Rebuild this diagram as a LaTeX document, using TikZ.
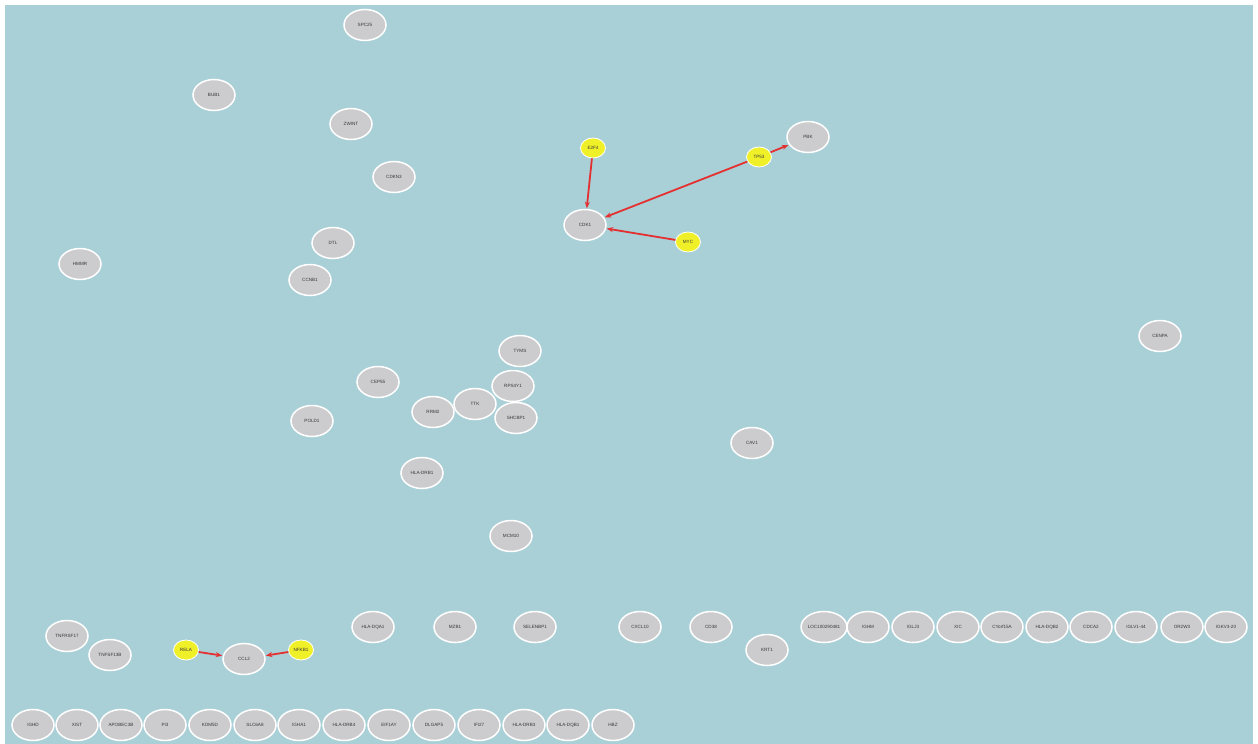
\documentclass[tikz,border=0pt]{standalone}
\usepackage{fontspec}
\setmainfont{Liberation Sans}
\usetikzlibrary{shapes.geometric,arrows.meta}
\definecolor{bgblue}{RGB}{169,208,215}
\definecolor{nodegray}{RGB}{204,204,206}
\definecolor{nodeyellow}{RGB}{240,240,40}
\definecolor{edgered}{RGB}{228,48,48}
\definecolor{labelgray}{RGB}{55,55,55}
\tikzset{
  gene/.style={ellipse, draw=white, line width=1.5pt, fill=nodegray,
    minimum width=42pt, minimum height=31pt, inner sep=0pt,
    font=\fontsize{4.6}{5}\selectfont, text=labelgray},
  tf/.style={ellipse, draw=white, line width=0.8pt, fill=nodeyellow,
    minimum width=25pt, minimum height=20pt, inner sep=0pt,
    font=\fontsize{4.6}{5}\selectfont, text=labelgray},
  reg/.style={draw=edgered, line width=1.8pt, -{Stealth[length=6.5pt,width=5pt]}, shorten >=0.5pt}
}
\begin{document}
\begin{tikzpicture}[x=1pt,y=-1pt]
\useasboundingbox (0,0) rectangle (1258,744);
\fill[white] (0,0) rectangle (1258,744);
\fill[bgblue] (5,5) rectangle (1253,744);
% upper cluster
\node[gene] (SPC25) at (365,25) {SPC25};
\node[gene] (BUB1) at (214,95) {BUB1};
\node[gene] (ZWINT) at (351,124) {ZWINT};
\node[gene] (CDKN3) at (394,177) {CDKN3};
\node[gene] (DTL) at (333,243) {DTL};
\node[gene] (CCNB1) at (310,280) {CCNB1};
\node[gene] (HMMR) at (80,264) {HMMR};
\node[gene] (PBK) at (808,137) {PBK};
\node[gene] (CDK1) at (585,225) {CDK1};
\node[tf] (E2F4) at (593,148) {E2F4};
\node[tf] (TP53) at (759,157) {TP53};
\node[tf] (MYC) at (688,242) {MYC};
% middle cluster
\node[gene] (TYMS) at (520,351) {TYMS};
\node[gene] (CEP55) at (378,382) {CEP55};
\node[gene] (RPS4Y1) at (513,386) {RPS4Y1};
\node[gene] (TTK) at (475,404) {TTK};
\node[gene] (RRM2) at (433,412) {RRM2};
\node[gene] (SHCBP1) at (516,418) {SHCBP1};
\node[gene] (POLD1) at (312,421) {POLD1};
\node[gene] (HLADRB1) at (422,473) {HLA-DRB1};
\node[gene] (MCM10) at (511,536) {MCM10};
\node[gene] (CENPA) at (1160,336) {CENPA};
\node[gene] (CAV1) at (752,443) {CAV1};
% lower left
\node[gene] (TNFRSF17) at (67,636) {TNFRSF17};
\node[gene] (TNFSF13B) at (110,655) {TNFSF13B};
\node[gene] (CCL2) at (244,659) {CCL2};
\node[tf] (RELA) at (186,650) {RELA};
\node[tf] (NFKB1) at (301,650) {NFKB1};
% row at y=627
\node[gene] (HLADQA1) at (373,627) {HLA-DQA1};
\node[gene] (MZB1) at (455,627) {MZB1};
\node[gene] (SELENBP1) at (535,627) {SELENBP1};
\node[gene] (CXCL10) at (640,627) {CXCL10};
\node[gene] (CD38) at (711,627) {CD38};
\node[gene] (KRT1) at (767,650) {KRT1};
\node[gene] (LOC) at (824,627) {LOC100290481};
\node[gene] (IGHM) at (868,627) {IGHM};
\node[gene] (IGLJ3) at (913,627) {IGLJ3};
\node[gene] (XIC) at (958,627) {XIC};
\node[gene] (CYorf15A) at (1002,627) {CYorf15A};
\node[gene] (HLADQB2) at (1047,627) {HLA-DQB2};
\node[gene] (CDCA2) at (1091,627) {CDCA2};
\node[gene] (IGLV144) at (1136,627) {IGLV1-44};
\node[gene] (OR2W3) at (1182,627) {OR2W3};
\node[gene] (IGKV320) at (1226,627) {IGKV3-20};
% bottom row
\node[gene] (IGHD) at (33,725) {IGHD};
\node[gene] (XIST) at (77,725) {XIST};
\node[gene] (APOBEC3B) at (121,725) {APOBEC3B};
\node[gene] (PI3) at (165,725) {PI3};
\node[gene] (KDM5D) at (210,725) {KDM5D};
\node[gene] (SLC6A8) at (255,725) {SLC6A8};
\node[gene] (IGHA1) at (299,725) {IGHA1};
\node[gene] (HLADRB4) at (344,725) {HLA-DRB4};
\node[gene] (EIF1AY) at (389,725) {EIF1AY};
\node[gene] (DLGAP5) at (434,725) {DLGAP5};
\node[gene] (IFI27) at (479,725) {IFI27};
\node[gene] (HLADRB3) at (524,725) {HLA-DRB3};
\node[gene] (HLADQB1) at (568,725) {HLA-DQB1};
\node[gene] (HBZ) at (613,725) {HBZ};
% edges
\draw[reg] (E2F4) -- (CDK1);
\draw[reg] (TP53) -- (CDK1);
\draw[reg] (MYC) -- (CDK1);
\draw[reg] (TP53) -- (PBK);
\draw[reg] (RELA) -- (CCL2);
\draw[reg] (NFKB1) -- (CCL2);
\end{tikzpicture}
\end{document}
